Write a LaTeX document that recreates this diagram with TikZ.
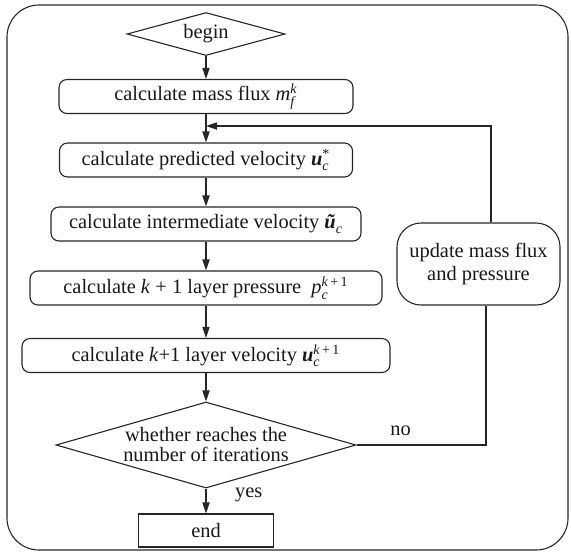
\documentclass[tikz,border=0pt]{standalone}
\usepackage{fontspec}
\setmainfont{LiberationSerif}[Extension=.ttf, UprightFont=*-Regular, BoldFont=*-Bold,
  ItalicFont=*-Italic, BoldItalicFont=*-BoldItalic]
\usetikzlibrary{arrows.meta,shapes.geometric}

% variable with stacked sub- and superscript, set in text fonts
\newcommand{\mv}[3]{\ensuremath{\mbox{#1}_{\mbox{\scriptsize\itshape #2}}^{\mbox{\scriptsize #3}}}}

\tikzset{
  flowline/.style={draw=black!85, line width=0.55pt},
  flowarrow/.style={flowline, -{Triangle[length=5.5pt,width=3.6pt]}},
  procbox/.style={flowline, rectangle, rounded corners=4pt, inner sep=0pt, minimum height=17pt},
  startbox/.style={flowline, diamond, shape aspect=3.67, inner sep=0pt, minimum width=79pt, minimum height=21.5pt},
  decision/.style={flowline, diamond, inner sep=0pt, minimum width=150pt, minimum height=43pt},
  stopbox/.style={flowline, rectangle, inner sep=0pt, minimum width=67.5pt, minimum height=16.5pt},
  updbox/.style={flowline, rectangle, rounded corners=12pt, align=center, inner sep=0pt,
    minimum width=81.5pt, minimum height=41pt, font=\fontsize{10.2}{11.5}\selectfont},
}

\begin{document}
\begin{tikzpicture}[x=0.5pt, y=-0.5pt,
  every node/.style={font=\fontsize{10.2}{12.5}\selectfont, text=black!90}]
\useasboundingbox (0,0) rectangle (571,553);
% outer frame
\draw[flowline, rounded corners=16pt] (7,5) rectangle (568,550);

% main column
\node[startbox] (start) at (206,34) {begin};
\node[procbox, minimum width=147pt] (flux) at (206,96.5)
  {calculate mass flux \mv{\itshape m}{f}{\itshape k}};
\node[procbox, minimum width=146.5pt] (pred) at (206,160)
  {calculate predicted velocity \mv{\bfseries\itshape u}{c}{*}};
\node[procbox, minimum width=155pt] (inter) at (206,224)
  {calculate intermediate velocity \mv{\bfseries\itshape \~u}{c}{}};
\node[procbox, minimum width=176pt] (press) at (206,288)
  {calculate \textit{k} + 1 layer pressure~ \mv{\itshape p}{c}{\textit{k}\,+\,1}};
\node[procbox, minimum width=184pt] (veloc) at (206,355.5)
  {calculate \textit{k}+1 layer velocity \mv{\bfseries\itshape u}{c}{\textit{k}\,+\,1}};
\node[decision, label={[align=center, font=\fontsize{10.2}{10}\selectfont]center:whether reaches the\\number of iterations}]
  (check) at (206,445) {};
\node[stopbox] (stop) at (206,530.5) {end};

% loop branch
\node[updbox] (update) at (478.5,264) {update mass flux\\and pressure};
\coordinate (loopin) at (206,126);
\coordinate (loopturn) at (491,126);
\coordinate (noturn) at (486,445);

\draw[flowarrow] (start) -- (flux);
\draw[flowarrow] (flux) -- (pred);
\draw[flowarrow] (pred) -- (inter);
\draw[flowarrow] (inter) -- (press);
\draw[flowarrow] (press) -- (veloc);
\draw[flowarrow] (veloc) -- (check);
\draw[flowarrow] (check) -- node[pos=0.27, right=11pt] {yes} (stop);
\draw[flowline] (check.east) -- node[pos=0.34, above=1pt] {no} (noturn) -- (noturn |- update.south);
\draw[flowarrow] (loopturn |- update.north) -- (loopturn) -- (loopin);
\end{tikzpicture}
\end{document}
